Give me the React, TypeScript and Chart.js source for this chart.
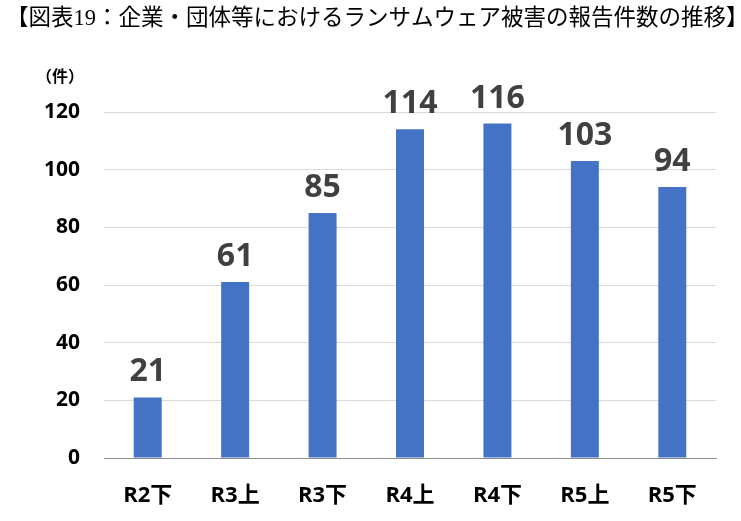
import React, { useEffect, useRef } from "react";
import { Chart, registerables } from "chart.js";

Chart.register(...registerables);

const categories = ["R2下", "R3上", "R3下", "R4上", "R4下", "R5上", "R5下"];
const counts = [21, 61, 85, 114, 116, 103, 94];
const yTicks = [0, 20, 40, 60, 80, 100, 120];
const titleText = "【図表19：企業・団体等におけるランサムウェア被害の報告件数の推移】";
const unitText = "（件）";

const FONT = "'Open Sans', 'Noto Sans CJK JP', sans-serif";

export default function App() {
  const ref = useRef<HTMLCanvasElement | null>(null);

  useEffect(() => {
    if (!ref.current) return;
    const overlay = {
      id: "overlay",
      afterDraw(chart: any) {
        const ctx = chart.ctx;
        ctx.save();
        // title
        ctx.fillStyle = "#000000";
        ctx.font = "normal 22.5px 'Liberation Serif', 'Noto Sans CJK JP', serif";
        ctx.textAlign = "left";
        ctx.textBaseline = "middle";
        ctx.fillText(titleText, 6, 19);
        // unit
        ctx.font = `bold 16px ${FONT}`;
        ctx.textAlign = "center";
        ctx.fillText(unitText, 60, 77);
        // data labels
        const meta = chart.getDatasetMeta(0);
        ctx.fillStyle = "#404040";
        ctx.font = `bold 32px ${FONT}`;
        ctx.textAlign = "center";
        ctx.textBaseline = "alphabetic";
        meta.data.forEach((bar: any, i: number) => {
          ctx.fillText(String(counts[i]), bar.x, bar.y - 16);
        });
        ctx.restore();
      },
    };

    const chart = new Chart(ref.current, {
      type: "bar",
      data: {
        labels: categories,
        datasets: [
          {
            data: counts,
            backgroundColor: "#4472C4",
            borderWidth: 0,
            categoryPercentage: 1,
            barPercentage: 0.32,
          },
        ],
      },
      options: {
        responsive: false,
        animation: false,
        layout: { padding: { top: 112, right: 25, left: 0, bottom: 0 } },
        plugins: {
          legend: { display: false },
          tooltip: { enabled: false },
          title: { display: false },
        },
        scales: {
          x: {
            grid: { display: false, drawTicks: false },
            border: { display: true, color: "#8c8c8c", width: 1 },
            ticks: {
              color: "#000000",
              font: { family: FONT, size: 22, weight: "bold" },
              padding: 25,
              maxRotation: 0,
            },
            afterFit(scale: any) {
              scale.height = 63;
            },
          },
          y: {
            min: 0,
            max: 120,
            afterBuildTicks(scale: any) {
              scale.ticks = yTicks.map((v) => ({ value: v }));
            },
            grid: { color: "#d9d9d9", drawTicks: false, lineWidth: 1 },
            border: { display: false },
            ticks: {
              color: "#000000",
              font: { family: FONT, size: 21, weight: "bold" },
              padding: 24,
            },
            afterFit(scale: any) {
              scale.width = 104;
            },
          },
        },
      },
      plugins: [overlay],
    });
    return () => chart.destroy();
  }, []);

  return (
    <div style={{ position: "absolute", left: 0, top: 0, width: 741, height: 521, background: "#ffffff" }}>
      <canvas ref={ref} width={741} height={521} style={{ width: 741, height: 521, display: "block" }} />
    </div>
  );
}
